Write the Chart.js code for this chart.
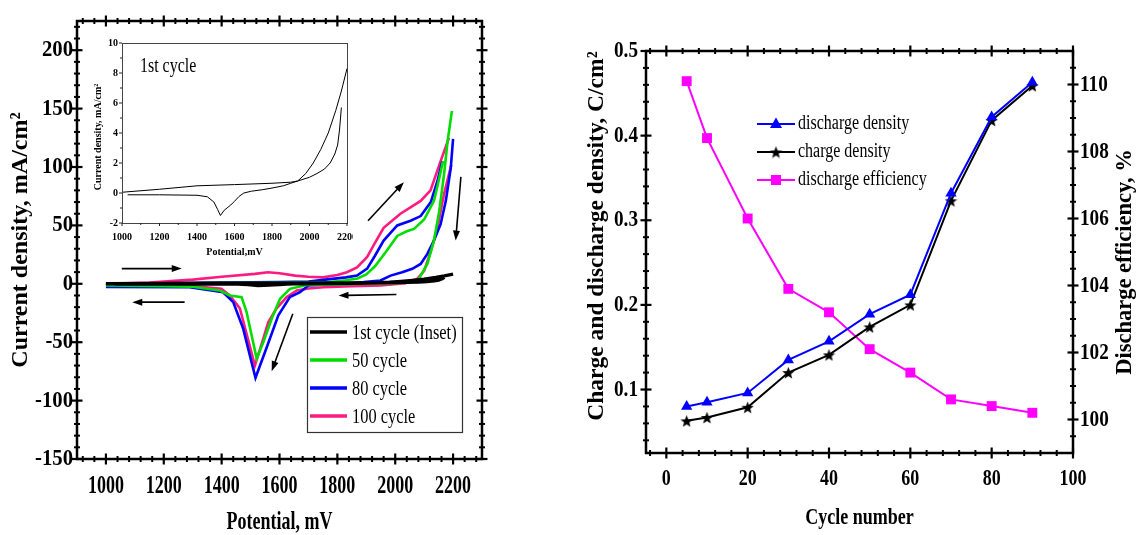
<!DOCTYPE html>
<html>
<head>
<meta charset="utf-8">
<script src="https://cdn.jsdelivr.net/npm/chart.js@4.4.0/dist/chart.umd.min.js"></script>
<style>
  body { margin: 0; background: #fff; }
  #wrap { position: relative; width: 1136px; height: 535px; }
  canvas { position: absolute; }
  #cv { left: 0; top: 0; }
  #inset { left: 88px; top: 30px; }
  #cycles { left: 560px; top: 0; }
</style>
</head>
<body>
<div id="wrap">
  <canvas id="cv" width="560" height="535"></canvas>
  <canvas id="inset" width="265" height="232"></canvas>
  <canvas id="cycles" width="576" height="535"></canvas>
</div>
<script>
// ---- left panel: cyclic voltammograms (mV, mA/cm2), null = pen up ----
const firstCyclePotential = [1000, 1200, 1400, 1600, 1800, 1900, 1937, 2000, 2040, 2080, 2110, 2135, 2150, 2160, 2170, null,
  1030, 1200, 1400, 1455, 1490, 1510, 1525, 1545, 1565, 1580, 1600, 1625, 1650, 1690, 1750, 1800, 1860, 1900, 1937, 1980, 2020, 2060, 2100, 2140, 2170, 2200];
const firstCycleCurrent = [0.05, 0.25, 0.48, 0.56, 0.65, 0.72, 0.8, 1.05, 1.3, 1.6, 2.0, 2.6, 3.2, 4.2, 5.7, null,
  -0.12, -0.12, -0.15, -0.25, -0.6, -1.1, -1.5, -1.15, -0.95, -0.8, -0.55, -0.22, 0, 0.12, 0.22, 0.33, 0.48, 0.65, 0.8, 1.3, 2.0, 2.9, 4.0, 5.5, 6.8, 8.3];

const cycle50Potential = [1000, 1200, 1400, 1600, 1700, 1775, 1830, 1870, 1900, 1930, 1970, 2007, 2040, 2065, 2100, 2134, 2150, 2165, null,
  2196, 2181, 2169, 2152, 2134, 2111, 2082, 2053, 2000, 1900, 1800, 1694, 1636, 1602, 1573, 1544, 1521, 1486, 1469, 1428, 1393, 1300, 1200, 1000];
const cycle50Current = [0, 0.3, 0.6, 0.8, 1.0, 1.5, 3, 4.5, 8, 15, 28, 41, 45, 47, 55, 71, 88, 105, null,
  148, 122, 94, 62, 37, 17, 4.3, 1.4, 0.5, 0, -0.5, -1, -4.3, -12.8, -30, -50, -64, -24, -11.4, -10, -5.7, -2.5, -2, -1.5];

const cycle80Potential = [1000, 1200, 1400, 1600, 1700, 1775, 1830, 1868, 1903, 1930, 1960, 2007, 2053, 2088, 2123, 2146, 2163, null,
  2200, 2192, 2175, 2157, 2134, 2111, 2088, 2059, 2024, 1984, 1949, 1891, 1810, 1700, 1671, 1636, 1596, 1555, 1517, 1474, 1440, 1405, 1289, 1000];
const cycle80Current = [0, 0.5, 1, 1.5, 2, 4, 5.5, 7, 13, 24, 37, 50, 54, 58, 70, 88, 105, null,
  124, 99, 71, 51, 37, 25.6, 17, 12.8, 9.9, 7, 2.8, 1.4, 0, -1.5, -7.2, -11.4, -27, -55, -80.5, -38, -15.7, -7.2, -2.9, -2.8];

const cycle100Potential = [1000, 1150, 1300, 1400, 1515, 1560, 1600, 1654, 1700, 1750, 1800, 1833, 1868, 1903, 1930, 1960, 2018, 2088, 2122, 2157, 2186, null,
  2194, 2169, 2146, 2123, 2100, 2076, 2036, 1949, 1850, 1752, 1700, 1660, 1625, 1590, 1561, 1544, 1515, 1463, 1428, 1399, 1300, 1200, 1000];
const cycle100Current = [0, 1, 3.6, 6, 8.5, 9.9, 9, 7, 6, 5.5, 7.5, 9.9, 14, 23, 35, 48, 60, 71, 80, 105, 125, null,
  102, 77, 48, 28, 11, 4.3, 0.5, -1.4, -2, -3, -4, -5.7, -11.4, -21, -33, -47, -70, -21, -10, -4.3, -2, -1, 0];

// scan direction arrows [from mV, from mA, to mV, to mA]
const scanArrows = [[1055, 13, 1262, 13], [1272, -15.7, 1091, -15.7], [1906, 54, 2030, 87],
  [2227, 91.5, 2209, 37], [2004, -9.1, 1804, -10], [1646, -25.6, 1573, -74.8]];

const cvXTicks = [1000, 1200, 1400, 1600, 1800, 2000, 2200];
const cvYTicks = [-150, -100, -50, 0, 50, 100, 150, 200];
const insetXTicks = [1000, 1200, 1400, 1600, 1800, 2000, 2200];
const insetYTicks = [-2, 0, 2, 4, 6, 8, 10];

// ---- right panel: per cycle number ----
const cycleNumbers = [5, 10, 20, 30, 40, 50, 60, 70, 80, 90];
const dischargeDensity = [0.080, 0.085, 0.096, 0.135, 0.157, 0.189, 0.212, 0.332, 0.422, 0.463];
const chargeDensity = [0.063, 0.067, 0.079, 0.120, 0.141, 0.174, 0.200, 0.323, 0.418, 0.459];
const dischargeEfficiency = [110.1, 108.4, 106.0, 103.9, 103.2, 102.1, 101.4, 100.6, 100.4, 100.2];

const cycleTicks = [0, 20, 40, 60, 80, 100];
const densityTicks = [0.1, 0.2, 0.3, 0.4, 0.5];
const efficiencyTicks = [100, 102, 104, 106, 108, 110];

const SERIF = '"Liberation Serif", "Times New Roman", serif';

function pts(xs, ys) {
  return xs.map((x, i) => ({ x: x, y: ys[i] }));
}

function steps(from, to, step) {
  const out = [];
  for (let v = from; v <= to + step / 100; v += step) out.push(Math.round(v * 1000) / 1000);
  return out;
}

function text(ctx, str, x, y, o) {
  ctx.save();
  ctx.translate(x, y);
  if (o.rot) ctx.rotate(o.rot);
  ctx.scale(o.sx || 1, 1);
  ctx.font = o.font;
  ctx.fillStyle = o.color || '#000';
  ctx.textAlign = o.align || 'center';
  ctx.textBaseline = o.base || 'middle';
  ctx.fillText(str, 0, 0);
  ctx.restore();
}

// crossing tick marks on given edges
function ticks(ctx, scale, values, len, horiz, edges) {
  values.forEach(v => {
    const p = scale.getPixelForValue(v);
    edges.forEach(e => {
      ctx.beginPath();
      if (horiz) { ctx.moveTo(p, e - len); ctx.lineTo(p, e + len); }
      else { ctx.moveTo(e - len, p); ctx.lineTo(e + len, p); }
      ctx.stroke();
    });
  });
}

function arrow(ctx, x1, y1, x2, y2) {
  const a = Math.atan2(y2 - y1, x2 - x1), h = 10, w = 3.5;
  ctx.beginPath();
  ctx.moveTo(x1, y1);
  ctx.lineTo(x2 - h * 0.7 * Math.cos(a), y2 - h * 0.7 * Math.sin(a));
  ctx.stroke();
  ctx.beginPath();
  ctx.moveTo(x2, y2);
  ctx.lineTo(x2 - h * Math.cos(a) + w * Math.sin(a), y2 - h * Math.sin(a) - w * Math.cos(a));
  ctx.lineTo(x2 - h * Math.cos(a) - w * Math.sin(a), y2 - h * Math.sin(a) + w * Math.cos(a));
  ctx.closePath();
  ctx.fill();
}

function starImage(size, color) {
  const c = document.createElement('canvas');
  c.width = c.height = size;
  const g = c.getContext('2d');
  g.fillStyle = color;
  g.beginPath();
  for (let i = 0; i < 10; i++) {
    const r = i % 2 ? size * 0.21 : size * 0.5;
    const a = -Math.PI / 2 + i * Math.PI / 5;
    g.lineTo(size / 2 + r * Math.cos(a), size / 2 + r * Math.sin(a) + size * 0.05);
  }
  g.closePath();
  g.fill();
  return c;
}

const base = {
  responsive: false,
  animation: false,
  devicePixelRatio: 1,
  events: [],
  plugins: { legend: { display: false }, tooltip: { enabled: false } }
};
const hidden = { ticks: { display: false }, grid: { display: false }, border: { display: false } };

// ================= left: CV curves =================
const cvColors = ['#000000', '#00dd00', '#0000ff', '#ff1a80'];
const cvDecor = {
  id: 'cvDecor',
  afterDatasetsDraw(chart) {
    const ctx = chart.ctx, x = chart.scales.x, y = chart.scales.y;
    ctx.save();
    ctx.strokeStyle = '#000';
    ctx.fillStyle = '#000';
    ctx.lineWidth = 1.6;
    scanArrows.forEach(a => arrow(ctx, x.getPixelForValue(a[0]), y.getPixelForValue(a[1]),
      x.getPixelForValue(a[2]), y.getPixelForValue(a[3])));
    ctx.restore();
  },
  afterDraw(chart) {
    const ctx = chart.ctx, x = chart.scales.x, y = chart.scales.y, ca = chart.chartArea;
    ctx.save();
    ctx.strokeStyle = '#000';
    ctx.lineWidth = 2.5;
    ctx.strokeRect(ca.left, ca.top, ca.right - ca.left, ca.bottom - ca.top);
    ctx.lineWidth = 2.2;
    ticks(ctx, x, cvXTicks, 5.5, true, [ca.top, ca.bottom]);
    ticks(ctx, y, cvYTicks, 5.5, false, [ca.left, ca.right]);
    ctx.lineWidth = 2;
    ticks(ctx, x, steps(920, 2280, 40).filter(v => v % 200), 3, true, [ca.top, ca.bottom]);
    ticks(ctx, y, steps(-140, 220, 10).filter(v => v % 50), 3, false, [ca.left, ca.right]);
    cvXTicks.forEach(v => text(ctx, String(v), x.getPixelForValue(v), 487, { font: 'bold 25px ' + SERIF, sx: 0.72 }));
    cvYTicks.forEach(v => text(ctx, String(v), 73, y.getPixelForValue(v), { font: 'bold 23px ' + SERIF, align: 'right', sx: 0.9 }));
    text(ctx, 'Potential, mV', (ca.left + ca.right) / 2, 523, { font: 'bold 25px ' + SERIF, sx: 0.72 });
    text(ctx, 'Current density, mA/cm\u00B2', 21, 240, { font: 'bold 24px ' + SERIF, rot: -Math.PI / 2 });
    // legend box
    ctx.lineWidth = 1.2;
    ctx.strokeStyle = '#333';
    ctx.strokeRect(307.5, 317.5, 155, 115);
    chart.data.datasets.forEach((ds, i) => {
      const ly = 332 + i * 28;
      ctx.strokeStyle = ds.borderColor;
      ctx.lineWidth = 3.5;
      ctx.beginPath();
      ctx.moveTo(310, ly);
      ctx.lineTo(347, ly);
      ctx.stroke();
      text(ctx, ds.label, 352, ly + 1, { font: '21px ' + SERIF, align: 'left', sx: 0.78 });
    });
    ctx.restore();
  }
};

new Chart(document.getElementById('cv'), {
  type: 'scatter',
  data: {
    datasets: [
      { label: '1st cycle (Inset)', data: pts(firstCyclePotential, firstCycleCurrent), borderWidth: 3.5 },
      { label: '50 cycle', data: pts(cycle50Potential, cycle50Current), borderWidth: 2.6 },
      { label: '80 cycle', data: pts(cycle80Potential, cycle80Current), borderWidth: 2.6 },
      { label: '100 cycle', data: pts(cycle100Potential, cycle100Current), borderWidth: 2.6 }
    ].map((d, i) => Object.assign(d, { showLine: true, pointRadius: 0, borderColor: cvColors[i], tension: 0 }))
  },
  options: Object.assign({}, base, {
    layout: { padding: { left: 0, top: 21, right: 78, bottom: 0 } },
    scales: {
      x: Object.assign({ type: 'linear', min: 900, max: 2300, afterFit(s) { s.height = 76; } }, hidden),
      y: Object.assign({ type: 'linear', min: -150, max: 225, afterFit(s) { s.width = 77; } }, hidden)
    }
  }),
  plugins: [cvDecor]
});

// ================= inset: 1st cycle =================
const insetDecor = {
  id: 'insetDecor',
  afterDraw(chart) {
    const ctx = chart.ctx, x = chart.scales.x, y = chart.scales.y, ca = chart.chartArea;
    ctx.save();
    ctx.strokeStyle = '#444';
    ctx.lineWidth = 1;
    ctx.strokeRect(ca.left + 0.5, ca.top + 0.5, ca.right - ca.left, ca.bottom - ca.top);
    ctx.strokeStyle = '#222';
    ctx.lineWidth = 1;
    insetXTicks.forEach(v => { const p = x.getPixelForValue(v); ctx.beginPath(); ctx.moveTo(p, ca.bottom); ctx.lineTo(p, ca.bottom + 3); ctx.stroke(); });
    steps(1100, 2100, 200).forEach(v => { const p = x.getPixelForValue(v); ctx.beginPath(); ctx.moveTo(p, ca.bottom); ctx.lineTo(p, ca.bottom + 2); ctx.stroke(); });
    insetYTicks.forEach(v => { const p = y.getPixelForValue(v); ctx.beginPath(); ctx.moveTo(ca.left - 3, p); ctx.lineTo(ca.left, p); ctx.stroke(); });
    steps(-1, 9, 2).forEach(v => { const p = y.getPixelForValue(v); ctx.beginPath(); ctx.moveTo(ca.left - 2, p); ctx.lineTo(ca.left, p); ctx.stroke(); });
    const tf = 'bold 10px ' + SERIF;
    insetXTicks.forEach(v => text(ctx, String(v), x.getPixelForValue(v), 207, { font: tf }));
    insetYTicks.forEach(v => text(ctx, String(v), 30, y.getPixelForValue(v), { font: tf, align: 'right' }));
    text(ctx, 'Potential,mV', (ca.left + ca.right) / 2, 222, { font: 'bold 10px ' + SERIF });
    text(ctx, 'Current density, mA/cm\u00B2', 10, 107, { font: 'bold 10px ' + SERIF, rot: -Math.PI / 2 });
    text(ctx, '1st cycle', 52, 36, { font: '21px ' + SERIF, align: 'left', sx: 0.76 });
    ctx.restore();
  }
};

new Chart(document.getElementById('inset'), {
  type: 'scatter',
  data: {
    datasets: [{ data: pts(firstCyclePotential, firstCycleCurrent), showLine: true, pointRadius: 0, borderColor: '#000', borderWidth: 1, tension: 0 }]
  },
  options: Object.assign({}, base, {
    layout: { padding: { left: 0, top: 13, right: 6, bottom: 0 } },
    scales: {
      x: Object.assign({ type: 'linear', min: 1000, max: 2200, afterFit(s) { s.height = 39; } }, hidden),
      y: Object.assign({ type: 'linear', min: -2, max: 10, afterFit(s) { s.width = 34; } }, hidden)
    }
  }),
  plugins: [insetDecor]
});

// ================= right: densities and efficiency =================
const star = starImage(13, '#000');
const cycleDecor = {
  id: 'cycleDecor',
  afterDraw(chart) {
    const ctx = chart.ctx, x = chart.scales.x, y = chart.scales.y, y2 = chart.scales.y2, ca = chart.chartArea;
    ctx.save();
    ctx.strokeStyle = '#000';
    ctx.lineWidth = 2.5;
    ctx.strokeRect(ca.left, ca.top, ca.right - ca.left, ca.bottom - ca.top);
    ctx.lineWidth = 2.2;
    ticks(ctx, x, cycleTicks, 5.5, true, [ca.top, ca.bottom]);
    ticks(ctx, y, densityTicks, 5.5, false, [ca.left]);
    ticks(ctx, y2, efficiencyTicks, 5.5, false, [ca.right]);
    ctx.lineWidth = 2;
    ticks(ctx, x, steps(-4, 96, 4).filter(v => v % 20), 3, true, [ca.top, ca.bottom]);
    ticks(ctx, y, steps(0.04, 0.48, 0.02).filter(v => Math.round(v * 100) % 10), 3, false, [ca.left]);
    ticks(ctx, y2, steps(99.5, 110.5, 0.5).filter(v => v % 2), 3, false, [ca.right]);
    const tf = 'bold 24px ' + SERIF;
    cycleTicks.forEach(v => text(ctx, String(v), x.getPixelForValue(v), 479, { font: tf, sx: 0.75 }));
    densityTicks.forEach(v => text(ctx, String(v), 78, y.getPixelForValue(v), { font: tf, align: 'right', sx: 0.8 }));
    efficiencyTicks.forEach(v => text(ctx, String(v), 520, y2.getPixelForValue(v), { font: tf, align: 'left', sx: 0.8 }));
    text(ctx, 'Cycle number', (ca.left + ca.right) / 2, 518, { font: 'bold 24px ' + SERIF, sx: 0.75 });
    text(ctx, 'Charge and discharge density, C/cm\u00B2', 37, 236, { font: 'bold 23.5px ' + SERIF, rot: -Math.PI / 2 });
    text(ctx, 'Discharge efficiency, %', 565, 262, { font: 'bold 22.5px ' + SERIF, rot: -Math.PI / 2 });
    // legend
    chart.data.datasets.forEach((ds, i) => {
      const ly = 124 + i * 28;
      ctx.strokeStyle = ds.borderColor;
      ctx.fillStyle = ds.borderColor;
      ctx.lineWidth = 2;
      ctx.beginPath();
      ctx.moveTo(197, ly);
      ctx.lineTo(235, ly);
      ctx.stroke();
      if (ds.pointStyle === 'triangle') {
        ctx.beginPath();
        ctx.moveTo(216, ly - 6.5);
        ctx.lineTo(222, ly + 4);
        ctx.lineTo(210, ly + 4);
        ctx.closePath();
        ctx.fill();
      } else if (ds.pointStyle === 'rect') {
        ctx.fillRect(211, ly - 5, 10, 10);
      } else {
        ctx.drawImage(star, 216 - star.width / 2, ly - star.height / 2);
      }
      text(ctx, ds.label, 238, ly, { font: '20px ' + SERIF, align: 'left', sx: 0.8 });
    });
    ctx.restore();
  }
};

new Chart(document.getElementById('cycles'), {
  type: 'scatter',
  data: {
    datasets: [
      { label: 'discharge density', data: pts(cycleNumbers, dischargeDensity), yAxisID: 'y',
        borderColor: '#0000ff', backgroundColor: '#0000ff', pointStyle: 'triangle', pointRadius: 6.5 },
      { label: 'charge density', data: pts(cycleNumbers, chargeDensity), yAxisID: 'y',
        borderColor: '#000000', backgroundColor: '#000000', pointStyle: star, pointRadius: 6 },
      { label: 'discharge efficiency', data: pts(cycleNumbers, dischargeEfficiency), yAxisID: 'y2',
        borderColor: '#ff00ff', backgroundColor: '#ff00ff', pointStyle: 'rect', pointRadius: 7 }
    ].map(d => Object.assign(d, { showLine: true, borderWidth: 2, pointBorderWidth: 0, tension: 0 }))
  },
  options: Object.assign({}, base, {
    layout: { padding: { left: 0, top: 51, right: 0, bottom: 0 } },
    scales: {
      x: Object.assign({ type: 'linear', min: -5, max: 100, afterFit(s) { s.height = 82; } }, hidden),
      y: Object.assign({ type: 'linear', position: 'left', min: 0.025, max: 0.5, afterFit(s) { s.width = 86; } }, hidden),
      y2: Object.assign({ type: 'linear', position: 'right', min: 99, max: 111, afterFit(s) { s.width = 63; } }, hidden)
    }
  }),
  plugins: [cycleDecor]
});
</script>
</body>
</html>
